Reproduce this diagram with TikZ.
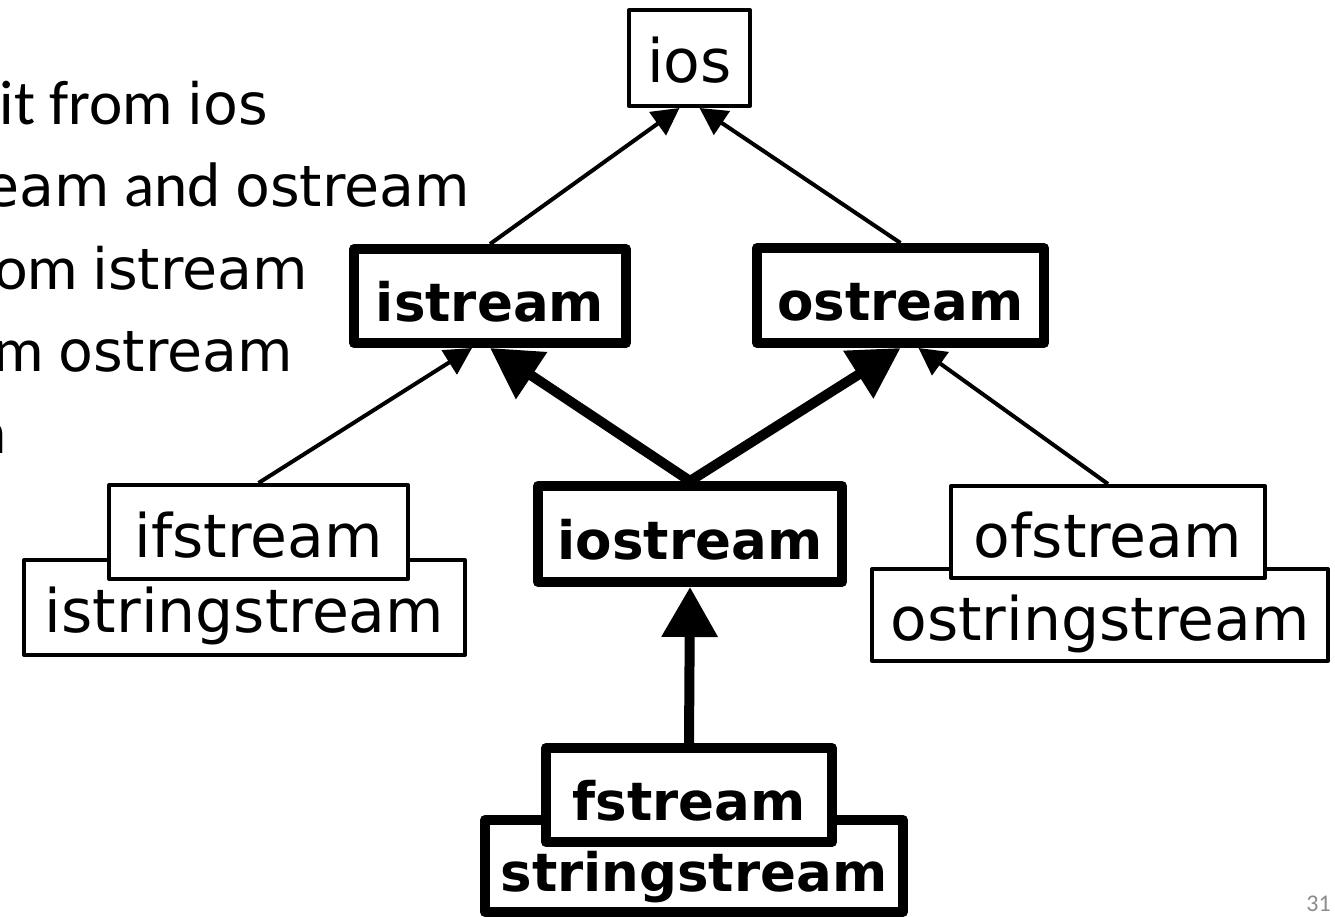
\documentclass[tikz,border=0pt]{standalone}
\usepackage{fontspec}
\setmainfont{Carlito}
\newfontfamily\codefont{DejaVu Sans}
\usetikzlibrary{arrows.meta}
% class names inside the running text
\newcommand\codeword[1]{{\codefont\fontsize{57}{57}\selectfont #1}}
\begin{document}
\begin{tikzpicture}[x=1pt,y=-1pt,
  box/.style={draw, fill=white, line width=4pt, line join=round, inner sep=0pt,
    text height=50pt, text depth=0pt,
    font=\codefont\fontsize{60}{60}\selectfont},
  boldbox/.style={box, line width=10pt, font=\codefont\bfseries\fontsize{53}{53}\selectfont},
  thinarrow/.style={line width=4pt, -{Triangle[length=27pt,width=28pt]}},
  thickarrow/.style={line width=10pt, -{Triangle[length=50pt,width=54pt]}},
  lefttext/.style={anchor=base east, inner sep=0pt, font=\fontsize{63}{63}\selectfont},
]
\useasboundingbox (0,0) rectangle (1335,917);
\clip (0,0) rectangle (1335,917);

% running text, cut off at the left edge
\node[lefttext] (l1) at (268,125) {it from \codeword{ios}};
\node[lefttext] (l2) at (470,207) {\codeword{eam} and \codeword{ostream}};
\node[lefttext] (l3) at (308,289) {om \codeword{istream}};
\node[lefttext] (l4) at (293,371) {m \codeword{ostream}};
\node[lefttext] (l5) at (7,453) {n};

% class boxes
\node[box, minimum width=121pt, minimum height=96pt] (ios) at (689.5,58) {ios};
\node[boldbox, minimum width=272pt, minimum height=94pt] (istream) at (490,296) {istream};
\node[boldbox, minimum width=287pt, minimum height=95pt] (ostream) at (900.5,295.5) {ostream};
\node[boldbox, minimum width=304pt, minimum height=96pt] (iostream) at (690,534) {iostream};

\node[box, minimum width=441pt, minimum height=95pt] (istringstream) at (244.5,607.5) {istringstream};
\node[box, minimum width=299pt, minimum height=94pt] (ifstream) at (258.5,532) {ifstream};

\node[box, minimum width=456pt, minimum height=92pt] (ostringstream) at (1100,615) {ostringstream};
\node[box, minimum width=314pt, minimum height=92pt] (ofstream) at (1108,532) {ofstream};

\node[boldbox, minimum width=418pt, minimum height=92pt] (stringstream) at (694,866) {stringstream};
\node[boldbox, minimum width=286pt, minimum height=94pt] (fstream) at (689,795) {fstream};

% inheritance arrows
\draw[thinarrow] (istream.north) -- ([xshift=-10pt]ios.south);
\draw[thinarrow] (ostream.north) -- ([xshift=10pt]ios.south);
\draw[thinarrow] (ifstream.north) -- ([xshift=-18pt]istream.south);
\draw[thinarrow] (ofstream.north) -- ([xshift=18pt]ostream.south);
\draw[thickarrow] (iostream.north) -- (istream.south);
\draw[thickarrow] (iostream.north) -- (ostream.south);
\draw[thickarrow] (fstream.north) -- (iostream.south);

% slide number
\node[anchor=base east, inner sep=0pt, text=black!45, font=\fontsize{24}{24}\selectfont] (page) at (1331,911) {31};
\end{tikzpicture}
\end{document}
